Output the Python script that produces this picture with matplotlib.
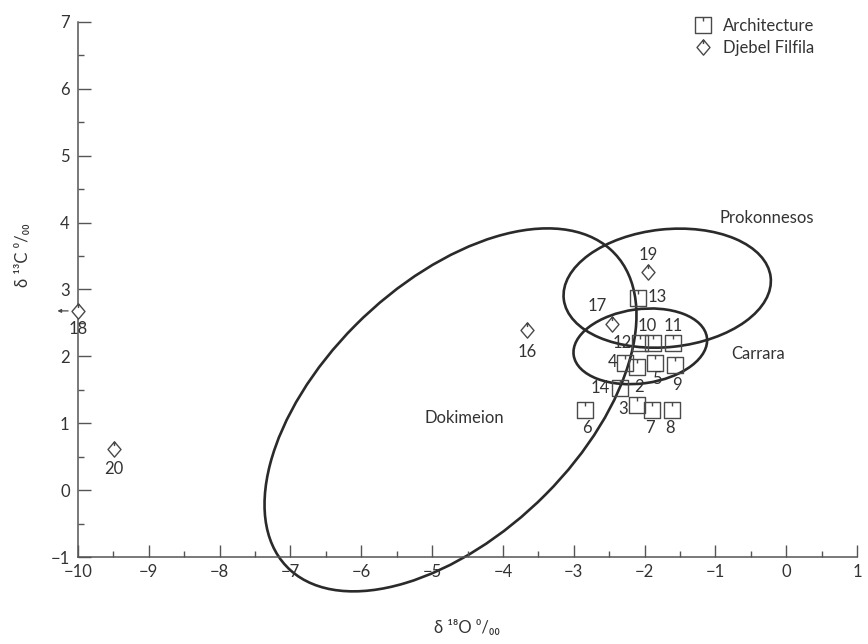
import numpy as np
import matplotlib
matplotlib.use('Agg')
import matplotlib.pyplot as plt
from matplotlib.path import Path
from matplotlib.patches import Ellipse
from matplotlib.lines import Line2D
from matplotlib.ticker import MultipleLocator

plt.rcParams['font.family'] = ['Lato', 'DejaVu Sans']
plt.rcParams['font.size'] = 12

# ---- architecture samples (delta 18O, delta 13C) ----
arch_ids = ['2', '3', '4', '5', '6', '7', '8', '9', '10', '11', '12', '13', '14']
arch_o18 = [-2.10, -2.10, -2.27, -1.85, -2.84, -1.89, -1.61, -1.57, -1.88, -1.60, -2.06, -2.09, -2.34]
arch_c13 = [1.84, 1.27, 1.90, 1.90, 1.20, 1.20, 1.20, 1.87, 2.20, 2.20, 2.20, 2.87, 1.52]

# ---- Djebel Filfila quarry samples ----
filf_ids = ['16', '17', '18', '19', '20']
filf_o18 = [-3.66, -2.46, -10.0, -1.95, -9.49]
filf_c13 = [2.39, 2.48, 2.68, 3.26, 0.62]

# label offsets in pixels (dx, dy) for each sample number
arch_offsets = [(2, -20), (-14, -4), (-13, 1), (2, -16), (2, -18), (-2, -18), (-2, -18),
                (2, -20), (-6, 17), (0, 17), (-18, 0), (19, 1), (-20, 0)]
filf_offsets = [(0, -22), (-15, 18), (0, -18), (0, 17), (0, -20)]

# ---- quarry reference fields: centre, width, height, angle ----
fields = ['Dokimeion', 'Prokonnesos', 'Carrara']
field_centre = [(-4.74, 1.20), (-1.68, 3.02), (-2.06, 2.15)]
field_width = [6.59, 2.94, 1.90]
field_height = [3.69, 1.76, 1.11]
field_angle = [46.8, 6.6, 8.3]
field_label_xy = [(-4.55, 1.08), (-0.28, 4.07), (-0.40, 2.03)]

ink = '#2a2a2a'
grey = '#4a4a4a'

# square with a small tick hanging from the top edge
square_marker = Path([(-1, -1), (1, -1), (1, 1), (-1, 1), (-1, -1), (0, 1), (0, 0.45)],
                     [Path.MOVETO, Path.LINETO, Path.LINETO, Path.LINETO, Path.CLOSEPOLY,
                      Path.MOVETO, Path.LINETO])
# diamond with a small tick at the top vertex
diamond_marker = Path([(0, -1), (0.85, 0), (0, 1), (-0.85, 0), (0, -1), (0, 1), (0, 0.45)],
                      [Path.MOVETO, Path.LINETO, Path.LINETO, Path.LINETO, Path.CLOSEPOLY,
                       Path.MOVETO, Path.LINETO])

fig = plt.figure(figsize=(8.68, 6.44), dpi=100)
ax = fig.add_axes([78 / 868, 87 / 644, 779 / 868, 535 / 644])

for (cx, cy), w, h, a in zip(field_centre, field_width, field_height, field_angle):
    ax.add_patch(Ellipse((cx, cy), w, h, angle=a, fill=False, ec=ink, lw=1.9, clip_on=False))
for name, (lx, ly) in zip(fields, field_label_xy):
    ax.text(lx, ly, name, ha='center', va='center', color='#333333', fontsize=12)

ax.plot(arch_o18, arch_c13, ls='none', marker=square_marker, ms=12, mfc='none',
        mec=grey, mew=1.0, clip_on=False)
ax.plot(filf_o18, filf_c13, ls='none', marker=diamond_marker, ms=11, mfc='white',
        mec=grey, mew=1.0, clip_on=False, zorder=4)

for sid, x, y, (dx, dy) in zip(arch_ids, arch_o18, arch_c13, arch_offsets):
    ax.annotate(sid, (x, y), xytext=(dx, dy), textcoords='offset pixels',
                ha='center', va='center', color='#333333', fontsize=12)
for sid, x, y, (dx, dy) in zip(filf_ids, filf_o18, filf_c13, filf_offsets):
    ax.annotate(sid, (x, y), xytext=(dx, dy), textcoords='offset pixels',
                ha='center', va='center', color='#333333', fontsize=12,
                annotation_clip=False)

# sample 18 lies beyond the plotted range
ax.annotate('', xy=(-10.33, filf_c13[2]), xytext=(-10.1, filf_c13[2]),
            arrowprops=dict(arrowstyle='-|>', color=grey, lw=0.9, mutation_scale=5),
            annotation_clip=False)

ax.set_xlim(-10, 1)
ax.set_ylim(-1, 7)
ax.xaxis.set_major_locator(MultipleLocator(1))
ax.xaxis.set_minor_locator(MultipleLocator(0.5))
ax.yaxis.set_major_locator(MultipleLocator(1))
ax.yaxis.set_minor_locator(MultipleLocator(0.5))
ax.tick_params(which='both', direction='in', color='#555555', width=1.0, labelcolor='#333333',
               labelsize=12)
ax.tick_params(which='major', length=9)
ax.tick_params(which='minor', length=4.5)
ax.tick_params(axis='x', pad=5)
ax.tick_params(axis='y', pad=6)
for side in ['top', 'right']:
    ax.spines[side].set_visible(False)
for side in ['left', 'bottom']:
    ax.spines[side].set_color('#555555')
    ax.spines[side].set_linewidth(1.1)

fig.text(467 / 868, 1 - 628 / 644, 'δ ¹⁸O ⁰/₀₀', ha='center', va='center', color='#333333',
         fontsize=12)
fig.text(23 / 868, 1 - 255 / 644, 'δ ¹³C ⁰/₀₀', ha='center', va='center', rotation=90,
         color='#333333', fontsize=12)

handles = [Line2D([], [], ls='none', marker=square_marker, ms=12, mfc='none', mec=grey, mew=1.0),
           Line2D([], [], ls='none', marker=diamond_marker, ms=11, mfc='none', mec=grey, mew=1.0)]
leg = ax.legend(handles, ['Architecture', 'Djebel Filfila'], loc='upper left',
                bbox_to_anchor=(695 / 868, 1 - 17.7 / 644), bbox_transform=fig.transFigure,
                frameon=False, borderpad=0, borderaxespad=0, handlelength=1.0,
                handletextpad=0.7, labelspacing=0.38, fontsize=12)
for t in leg.get_texts():
    t.set_color('#333333')

fig.savefig('out.png', dpi=100)
